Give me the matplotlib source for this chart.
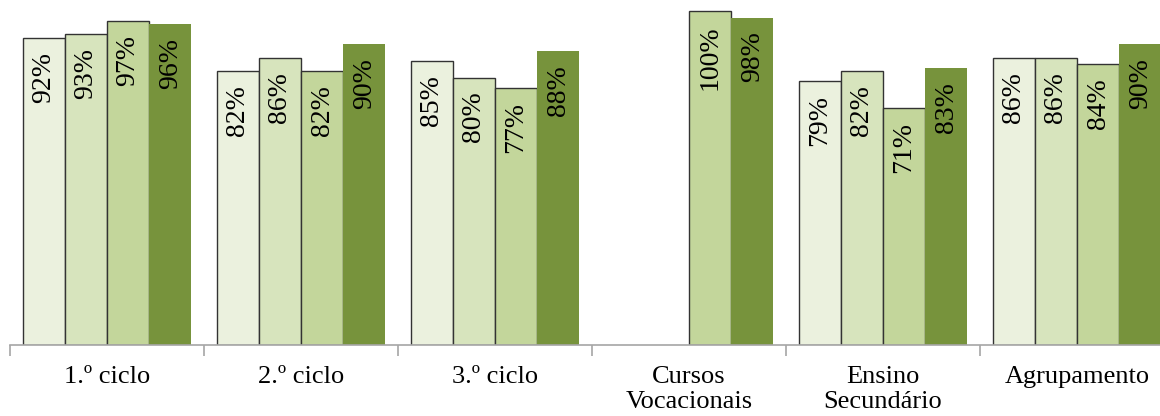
import matplotlib
matplotlib.use("Agg")
import matplotlib.pyplot as plt
import numpy as np

plt.rcParams['font.family'] = ['Liberation Serif', 'DejaVu Serif']

# ---- data ----
categories = ["1.º ciclo", "2.º ciclo", "3.º ciclo", "Cursos\nVocacionais",
              "Ensino\nSecundário", "Agrupamento"]
serie1 = [0.92, 0.82, 0.85, None, 0.79, 0.86]
serie2 = [0.93, 0.86, 0.80, None, 0.82, 0.86]
serie3 = [0.97, 0.82, 0.77, 1.00, 0.71, 0.84]
serie4 = [0.96, 0.90, 0.88, 0.98, 0.83, 0.90]

series = [serie1, serie2, serie3, serie4]
colors = ["#EBF1DE", "#D7E4BD", "#C3D69B", "#77933C"]
edges = ["#333333", "#333333", "#333333", "none"]

# ---- plot ----
fig = plt.figure(figsize=(11.6, 4.16), dpi=100)
ax = fig.add_axes([10/1160, 71/416, 1164/1160, 345/416])

w = 0.2175
x = np.arange(len(categories))
for j, s in enumerate(series):
    xs = [x[i] + (j - 1.5)*w for i in range(len(s)) if s[i] is not None]
    ys = [v for v in s if v is not None]
    bars = ax.bar(xs, ys, width=w, color=colors[j], edgecolor=edges[j], linewidth=1.0)
    for b, v in zip(bars, ys):
        ax.annotate("{:.0f}%".format(v*100), (b.get_x() + b.get_width()/2, v),
                    xytext=(0, -10), textcoords="offset points",
                    rotation=90, ha="center", va="top", fontsize=20, color="black")

ax.set_xlim(-0.5, len(categories) - 0.5)
ax.set_ylim(0, 345/334)

for sp in ["top", "left", "right"]:
    ax.spines[sp].set_visible(False)
ax.spines["bottom"].set_color("#A6A6A6")
ax.spines["bottom"].set_linewidth(1.2)
ax.set_yticks([])

ax.set_xticks(np.arange(len(categories) + 1) - 0.5)
ax.set_xticklabels([])
ax.tick_params(axis="x", which="major", direction="out", length=8, width=1.2, color="#A6A6A6")
ax.set_xticks(x, minor=True)
ax.set_xticklabels(categories, minor=True, fontsize=19, linespacing=1.2)
ax.tick_params(axis="x", which="minor", length=0, pad=15)

plt.savefig("out.png", dpi=100)
